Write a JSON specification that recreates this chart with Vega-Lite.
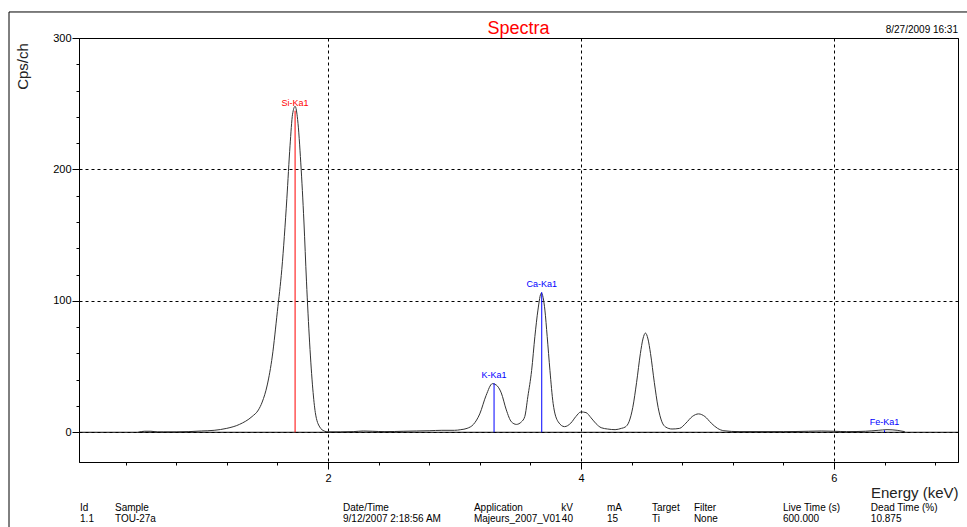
{
  "$schema": "https://vega.github.io/schema/vega-lite/v6.json",
  "width": 879,
  "height": 424,
  "autosize": {"type": "none"},
  "padding": {"left": 79, "top": 38, "right": 9, "bottom": 65},
  "background": "#ffffff",
  "config": {
    "font": "Liberation Sans",
    "view": {"stroke": "#000000", "strokeWidth": 1},
    "axis": {"domainColor": "#000000", "tickColor": "#000000", "labelColor": "#000000", "titleColor": "#222222", "labelFont": "Liberation Sans", "titleFont": "Liberation Sans", "titleFontWeight": "normal"}
  },
  "resolve": {"axis": {"x": "independent", "y": "independent"}},
  "datasets": {
    "spectrum": [
      {"E": 0.50, "cps": 0}, {"E": 0.55, "cps": 0.8}, {"E": 0.60, "cps": 0.8}, {"E": 0.65, "cps": 0.3}, {"E": 0.70, "cps": 0.3},
      {"E": 0.80, "cps": 0.3}, {"E": 0.90, "cps": 0.5}, {"E": 1.00, "cps": 1}, {"E": 1.10, "cps": 1.5}, {"E": 1.20, "cps": 3},
      {"E": 1.30, "cps": 6}, {"E": 1.40, "cps": 12}, {"E": 1.45, "cps": 17}, {"E": 1.48, "cps": 23}, {"E": 1.52, "cps": 36},
      {"E": 1.56, "cps": 58}, {"E": 1.60, "cps": 92}, {"E": 1.635, "cps": 124}, {"E": 1.675, "cps": 178}, {"E": 1.70, "cps": 218},
      {"E": 1.72, "cps": 242}, {"E": 1.74, "cps": 248}, {"E": 1.76, "cps": 238}, {"E": 1.785, "cps": 205}, {"E": 1.81, "cps": 160},
      {"E": 1.83, "cps": 115}, {"E": 1.855, "cps": 68}, {"E": 1.88, "cps": 33}, {"E": 1.90, "cps": 15}, {"E": 1.935, "cps": 4},
      {"E": 1.97, "cps": 1}, {"E": 2.00, "cps": 0.3}, {"E": 2.10, "cps": 0.3}, {"E": 2.20, "cps": 0.5}, {"E": 2.28, "cps": 1},
      {"E": 2.35, "cps": 0.8}, {"E": 2.45, "cps": 0.5}, {"E": 2.60, "cps": 0.8}, {"E": 2.70, "cps": 1}, {"E": 2.80, "cps": 1.2},
      {"E": 2.90, "cps": 1.5}, {"E": 3.00, "cps": 1.5}, {"E": 3.05, "cps": 2}, {"E": 3.10, "cps": 3}, {"E": 3.15, "cps": 6},
      {"E": 3.20, "cps": 14}, {"E": 3.25, "cps": 28}, {"E": 3.30, "cps": 37}, {"E": 3.33, "cps": 36}, {"E": 3.37, "cps": 30},
      {"E": 3.41, "cps": 17}, {"E": 3.45, "cps": 8}, {"E": 3.49, "cps": 6}, {"E": 3.53, "cps": 8}, {"E": 3.556, "cps": 12},
      {"E": 3.58, "cps": 27}, {"E": 3.61, "cps": 47}, {"E": 3.636, "cps": 73}, {"E": 3.66, "cps": 93}, {"E": 3.687, "cps": 106},
      {"E": 3.715, "cps": 93}, {"E": 3.733, "cps": 73}, {"E": 3.755, "cps": 47}, {"E": 3.78, "cps": 22}, {"E": 3.82, "cps": 8},
      {"E": 3.87, "cps": 4.3}, {"E": 3.92, "cps": 7}, {"E": 3.96, "cps": 12}, {"E": 4.00, "cps": 15.5}, {"E": 4.04, "cps": 15},
      {"E": 4.08, "cps": 11}, {"E": 4.12, "cps": 6.5}, {"E": 4.16, "cps": 3.5}, {"E": 4.21, "cps": 2.5}, {"E": 4.27, "cps": 2},
      {"E": 4.32, "cps": 3}, {"E": 4.35, "cps": 4}, {"E": 4.38, "cps": 8}, {"E": 4.41, "cps": 19}, {"E": 4.44, "cps": 38},
      {"E": 4.47, "cps": 60}, {"E": 4.49, "cps": 71}, {"E": 4.51, "cps": 75.5}, {"E": 4.53, "cps": 71}, {"E": 4.55, "cps": 60},
      {"E": 4.58, "cps": 38}, {"E": 4.61, "cps": 19}, {"E": 4.64, "cps": 8}, {"E": 4.67, "cps": 4}, {"E": 4.72, "cps": 2.5},
      {"E": 4.78, "cps": 3}, {"E": 4.83, "cps": 7}, {"E": 4.88, "cps": 12}, {"E": 4.93, "cps": 14}, {"E": 4.98, "cps": 12},
      {"E": 5.03, "cps": 7}, {"E": 5.08, "cps": 3}, {"E": 5.13, "cps": 1.2}, {"E": 5.25, "cps": 0.5}, {"E": 5.40, "cps": 0.5},
      {"E": 5.60, "cps": 0.5}, {"E": 5.80, "cps": 0.8}, {"E": 5.90, "cps": 1}, {"E": 6.00, "cps": 0.8}, {"E": 6.10, "cps": 0.5},
      {"E": 6.25, "cps": 0.8}, {"E": 6.35, "cps": 1.5}, {"E": 6.42, "cps": 2}, {"E": 6.50, "cps": 1.5}, {"E": 6.56, "cps": 0.5}
    ],
    "lines": [
      {"element": "Si-Ka1", "E": 1.74, "cps": 244.7},
      {"element": "K-Ka1", "E": 3.313, "cps": 37.4},
      {"element": "Ca-Ka1", "E": 3.69, "cps": 106.6},
      {"element": "Fe-Ka1", "E": 6.40, "cps": 1.5}
    ],
    "one": [{}]
  },
  "layer": [
    {
      "data": {"name": "spectrum"},
      "mark": {"type": "line", "color": "#333333", "strokeWidth": 1, "interpolate": "monotone", "clip": true},
      "encoding": {
        "x": {
          "field": "E", "type": "quantitative",
          "scale": {"domain": [0.0316, 6.981], "nice": false, "zero": false},
          "axis": {
            "orient": "bottom",
            "title": "Energy (keV)", "titleFontSize": 15, "titleAlign": "right", "titleBaseline": "middle", "titleX": 879, "titleY": 30, "titleAnchor": "end",
            "values": [2, 4, 6], "format": "d",
            "labelFontSize": 11, "labelOverlap": false, "labelFlush": false, "labelPadding": 3, "tickSize": 7,
            "grid": true, "gridColor": "#000000", "gridDash": [3, 3], "gridWidth": 1
          }
        },
        "y": {
          "field": "cps", "type": "quantitative",
          "scale": {"domain": [-22.6, 300], "nice": false, "zero": false},
          "axis": {
            "orient": "left",
            "title": "Cps/ch", "titleFontSize": 15, "titleAngle": -90, "titleAlign": "center", "titleBaseline": "middle", "titleX": -57, "titleY": 28,
            "values": [0, 100, 200, 300], "format": "d",
            "labelFontSize": 11, "labelOverlap": false, "labelFlush": false, "labelPadding": 1, "tickSize": 7,
            "grid": true, "gridColor": "#000000", "gridDash": [3, 3], "gridWidth": 1
          }
        }
      }
    },
    {
      "data": {"name": "spectrum"},
      "mark": {"type": "point", "opacity": 0},
      "encoding": {
        "x": {
          "field": "E", "type": "quantitative",
          "axis": {"orient": "bottom", "title": null, "labels": false, "grid": false, "domain": false, "tickSize": 3,
            "values": [0.4, 0.8, 1.2, 1.6, 2.4, 2.8, 3.2, 3.6, 4.4, 4.8, 5.2, 5.6, 6.4, 6.8]}
        },
        "y": {
          "field": "cps", "type": "quantitative",
          "axis": {"orient": "left", "title": null, "labels": false, "grid": false, "domain": false, "tickSize": 3,
            "values": [20, 40, 60, 80, 120, 140, 160, 180, 220, 240, 260, 280]}
        }
      }
    },
    {
      "data": {"name": "one"},
      "mark": {"type": "rule", "color": "#000000", "strokeWidth": 1},
      "encoding": {"y": {"datum": 0, "axis": null}}
    },
    {
      "data": {"name": "lines"},
      "mark": {"type": "rule", "strokeWidth": 1},
      "encoding": {
        "x": {"field": "E", "type": "quantitative", "axis": null},
        "y": {"field": "cps", "type": "quantitative", "axis": null},
        "y2": {"datum": 0},
        "color": {"field": "element", "type": "nominal", "scale": {"domain": ["Si-Ka1", "K-Ka1", "Ca-Ka1", "Fe-Ka1"], "range": ["#ff0000", "#0000ff", "#0000ff", "#0000ff"]}, "legend": null}
      }
    },
    {
      "data": {"name": "lines"},
      "mark": {"type": "text", "fontSize": 9, "font": "Liberation Sans", "baseline": "bottom", "dy": -3},
      "encoding": {
        "x": {"field": "E", "type": "quantitative", "axis": null},
        "y": {"field": "cps", "type": "quantitative", "axis": null},
        "text": {"field": "element"},
        "color": {"field": "element", "type": "nominal", "legend": null}
      }
    },
    {
      "data": {"name": "one"},
      "mark": {"type": "text", "fontSize": 18, "font": "Liberation Sans", "align": "center", "baseline": "alphabetic", "color": "#ff0000"},
      "encoding": {"x": {"datum": 3.506, "axis": null}, "y": {"datum": 303.4, "axis": null}, "text": {"value": "Spectra"}}
    },
    {
      "data": {"name": "one"},
      "mark": {"type": "text", "fontSize": 10, "font": "Liberation Sans", "align": "right", "baseline": "alphabetic", "color": "#000000"},
      "encoding": {"x": {"datum": 6.981, "axis": null}, "y": {"datum": 303.8, "axis": null}, "text": {"value": "8/27/2009 16:31"}}
    },
    {
      "data": {"name": "one"},
      "mark": {"type": "rule", "color": "#000000", "strokeWidth": 1},
      "encoding": {"x": {"datum": -0.5218, "axis": null}, "y": {"datum": 319.8, "axis": null}, "y2": {"datum": -120}}
    },
    {
      "data": {"name": "one"},
      "mark": {"type": "rule", "color": "#000000", "strokeWidth": 1},
      "encoding": {"x": {"datum": -0.5218, "axis": null}, "x2": {"datum": 8}, "y": {"datum": 319.8, "axis": null}}
    },
    {
      "data": {"name": "one"},
      "mark": {"type": "text", "fontSize": 10, "font": "Liberation Sans", "align": "left", "baseline": "alphabetic", "lineHeight": 11, "color": "#000000"},
      "encoding": {"x": {"datum": 0.040, "axis": null}, "y": {"datum": -59.9, "axis": null}, "text": {"value": ["Id", "1.1"]}}
    },
    {
      "data": {"name": "one"},
      "mark": {"type": "text", "fontSize": 10, "font": "Liberation Sans", "align": "left", "baseline": "alphabetic", "lineHeight": 11, "color": "#000000"},
      "encoding": {"x": {"datum": 0.316, "axis": null}, "y": {"datum": -59.9, "axis": null}, "text": {"value": ["Sample", "TOU-27a"]}}
    },
    {
      "data": {"name": "one"},
      "mark": {"type": "text", "fontSize": 10, "font": "Liberation Sans", "align": "left", "baseline": "alphabetic", "lineHeight": 11, "color": "#000000"},
      "encoding": {"x": {"datum": 2.119, "axis": null}, "y": {"datum": -59.9, "axis": null}, "text": {"value": ["Date/Time", "9/12/2007 2:18:56 AM"]}}
    },
    {
      "data": {"name": "one"},
      "mark": {"type": "text", "fontSize": 10, "font": "Liberation Sans", "align": "left", "baseline": "alphabetic", "lineHeight": 11, "color": "#000000"},
      "encoding": {"x": {"datum": 3.154, "axis": null}, "y": {"datum": -59.9, "axis": null}, "text": {"value": ["Application", "Majeurs_2007_V01"]}}
    },
    {
      "data": {"name": "one"},
      "mark": {"type": "text", "fontSize": 10, "font": "Liberation Sans", "align": "right", "baseline": "alphabetic", "lineHeight": 11, "color": "#000000"},
      "encoding": {"x": {"datum": 3.937, "axis": null}, "y": {"datum": -59.9, "axis": null}, "text": {"value": ["kV", "40"]}}
    },
    {
      "data": {"name": "one"},
      "mark": {"type": "text", "fontSize": 10, "font": "Liberation Sans", "align": "left", "baseline": "alphabetic", "lineHeight": 11, "color": "#000000"},
      "encoding": {"x": {"datum": 4.206, "axis": null}, "y": {"datum": -59.9, "axis": null}, "text": {"value": ["mA", "15"]}}
    },
    {
      "data": {"name": "one"},
      "mark": {"type": "text", "fontSize": 10, "font": "Liberation Sans", "align": "left", "baseline": "alphabetic", "lineHeight": 11, "color": "#000000"},
      "encoding": {"x": {"datum": 4.561, "axis": null}, "y": {"datum": -59.9, "axis": null}, "text": {"value": ["Target", "Ti"]}}
    },
    {
      "data": {"name": "one"},
      "mark": {"type": "text", "fontSize": 10, "font": "Liberation Sans", "align": "left", "baseline": "alphabetic", "lineHeight": 11, "color": "#000000"},
      "encoding": {"x": {"datum": 4.893, "axis": null}, "y": {"datum": -59.9, "axis": null}, "text": {"value": ["Filter", "None"]}}
    },
    {
      "data": {"name": "one"},
      "mark": {"type": "text", "fontSize": 10, "font": "Liberation Sans", "align": "left", "baseline": "alphabetic", "lineHeight": 11, "color": "#000000"},
      "encoding": {"x": {"datum": 5.597, "axis": null}, "y": {"datum": -59.9, "axis": null}, "text": {"value": ["Live Time (s)", "600.000"]}}
    },
    {
      "data": {"name": "one"},
      "mark": {"type": "text", "fontSize": 10, "font": "Liberation Sans", "align": "left", "baseline": "alphabetic", "lineHeight": 11, "color": "#000000"},
      "encoding": {"x": {"datum": 6.292, "axis": null}, "y": {"datum": -59.9, "axis": null}, "text": {"value": ["Dead Time (%)", "10.875"]}}
    }
  ]
}
